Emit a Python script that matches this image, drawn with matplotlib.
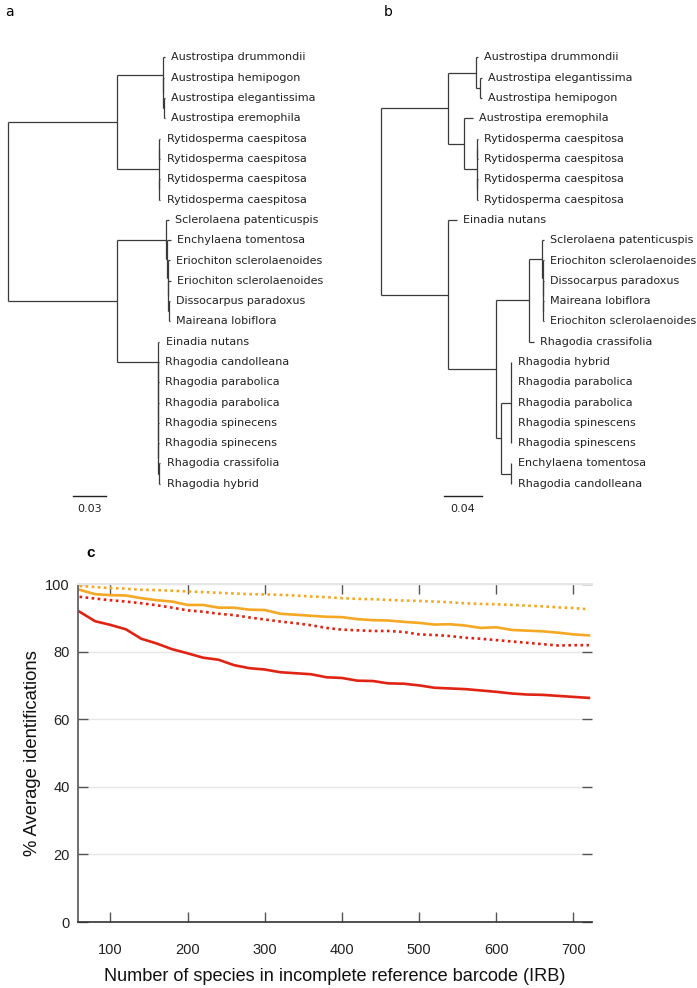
import matplotlib
matplotlib.use('Agg')
import matplotlib.pyplot as plt

plt.rcParams['font.family'] = ['Liberation Sans Narrow', 'Liberation Sans', 'DejaVu Sans']

# ---- trees (newick, branch lengths in substitutions/site) ----
tree_a = ("(((Austrostipa_drummondii:0.002,(Austrostipa_hemipogon:0.001,(Austrostipa_elegantissima:0.001,"
          "Austrostipa_eremophila:0.001):0.0005):0.0005):0.0414,"
          "((Rytidosperma_caespitosa:0.001,Rytidosperma_caespitosa:0.001):0.0005,"
          "(Rytidosperma_caespitosa:0.001,Rytidosperma_caespitosa:0.001):0.0005):0.0378):0.098,"
          "((Sclerolaena_patenticuspis:0.0025,(Enchylaena_tomentosa:0.0035,(Eriochiton_sclerolaenoides:0.002,"
          "(Eriochiton_sclerolaenoides:0.002,(Dissocarpus_paradoxus:0.001,Maireana_lobiflora:0.001):0.0005)"
          ":0.0005):0.001):0.0008):0.0441,"
          "(Einadia_nutans:0.0015,(Rhagodia_candolleana:0.001,(Rhagodia_parabolica:0.001,(Rhagodia_parabolica:0.001,"
          "(Rhagodia_spinecens:0.001,(Rhagodia_spinecens:0.001,(Rhagodia_crassifolia:0.0015,Rhagodia_hybrid:0.0015)"
          ":0.0005):0):0):0):0):0.0003):0.0369):0.098);")

tree_b = ("(((Austrostipa_drummondii:0.0025,(Austrostipa_elegantissima:0.002,Austrostipa_hemipogon:0.002):0.0046):0.030,"
          "(Austrostipa_eremophila:0.0093,((Rytidosperma_caespitosa:0.001,Rytidosperma_caespitosa:0.001):0.0003,"
          "(Rytidosperma_caespitosa:0.001,Rytidosperma_caespitosa:0.001):0.0003):0.0139):0.0175):0.0714,"
          "(Einadia_nutans:0.0103,(((Sclerolaena_patenticuspis:0.0015,(Eriochiton_sclerolaenoides:0.0015,"
          "(Dissocarpus_paradoxus:0.001,(Maireana_lobiflora:0.001,Eriochiton_sclerolaenoides:0.001):0.0003):0.0003)"
          ":0.0005):0.0143,Rhagodia_crassifolia:0.0054):0.0357,"
          "((Rhagodia_hybrid:0.001,Rhagodia_parabolica:0.001,Rhagodia_parabolica:0.001,Rhagodia_spinescens:0.001,"
          "Rhagodia_spinescens:0.001):0.0104,(Enchylaena_tomentosa:0.001,Rhagodia_candolleana:0.001):0.0104)"
          ":0.0057):0.0514):0.0714);")

scale_a = 0.03
scale_b = 0.04

# ---- panel c data ----
n_species = [60, 80, 100, 120, 140, 160, 180, 200, 220, 240, 260, 280, 300, 320, 340, 360, 380,
             400, 420, 440, 460, 480, 500, 520, 540, 560, 580, 600, 620, 640, 660, 680, 700, 720]
orange_dotted = [99.4, 99.1, 98.8, 98.6, 98.3, 98.2, 98.0, 97.8, 97.6, 97.4, 97.2, 97.0, 96.9, 96.8, 96.6,
                 96.3, 96.1, 95.8, 95.6, 95.5, 95.3, 95.1, 95.0, 94.8, 94.6, 94.3, 94.1, 94.0, 93.8, 93.6,
                 93.4, 93.1, 92.9, 92.5]
orange_solid = [98.3, 97.0, 96.7, 96.6, 95.8, 95.2, 94.8, 93.8, 93.8, 93.0, 93.0, 92.4, 92.3, 91.2, 90.9,
                90.6, 90.3, 90.2, 89.6, 89.3, 89.2, 88.8, 88.5, 88.0, 88.1, 87.7, 87.0, 87.2, 86.4, 86.2,
                86.0, 85.6, 85.1, 84.8]
red_dotted = [96.2, 95.7, 95.2, 94.8, 94.3, 93.7, 93.0, 92.2, 91.8, 91.2, 90.8, 90.1, 89.5, 88.9, 88.4,
              87.8, 87.0, 86.5, 86.3, 86.1, 86.1, 85.8, 85.1, 84.9, 84.6, 84.1, 83.8, 83.4, 83.0, 82.6,
              82.2, 81.8, 81.9, 81.9]
red_solid = [91.8, 89.0, 87.9, 86.6, 83.8, 82.4, 80.7, 79.5, 78.2, 77.6, 76.0, 75.1, 74.7, 73.9, 73.6,
             73.3, 72.4, 72.2, 71.4, 71.3, 70.6, 70.5, 70.0, 69.3, 69.1, 68.9, 68.5, 68.1, 67.6, 67.3,
             67.2, 66.9, 66.6, 66.3]

ORANGE = '#F5A823'
RED = '#E12314'
W, H = 697, 988


def fbox(x0, y0, x1, y1):
    return [x0 / W, 1 - y1 / H, (x1 - x0) / W, (y1 - y0) / H]


def parse_newick(s):
    pos = 0

    def node():
        nonlocal pos
        n = {'children': [], 'name': '', 'len': 0.0}
        if s[pos] == '(':
            pos += 1
            while True:
                n['children'].append(node())
                if s[pos] == ',':
                    pos += 1
                    continue
                pos += 1
                break
        start = pos
        while s[pos] not in ':,);':
            pos += 1
        n['name'] = s[start:pos].replace('_', ' ')
        if s[pos] == ':':
            pos += 1
            start = pos
            while s[pos] not in ',);':
                pos += 1
            n['len'] = float(s[start:pos])
        return n
    return node()


def layout(n, x, rows):
    n['x'] = x + n['len']
    if not n['children']:
        n['y'] = rows[0]
        rows[0] += 1
    else:
        for c in n['children']:
            layout(c, n['x'], rows)
        n['y'] = (n['children'][0]['y'] + n['children'][-1]['y']) / 2


def draw(ax, n):
    kw = dict(color='#3a3a3a', lw=0.9, solid_capstyle='butt')
    if n['children']:
        ys = [c['y'] for c in n['children']]
        ax.plot([n['x'], n['x']], [min(ys), max(ys)], **kw)
        for c in n['children']:
            ax.plot([n['x'], c['x']], [c['y'], c['y']], **kw)
            draw(ax, c)
    else:
        ax.annotate(n['name'], (n['x'], n['y']), xytext=(4.5, 0), textcoords='offset points',
                    va='center', ha='left', fontsize=8, color='#222222', family='DejaVu Sans')


fig = plt.figure(figsize=(6.97, 9.88), dpi=100)

row0, row_step = 57.5, 20.3
# (tree, scale, axes px span, root px, px per unit, scale bar start px)
panels = [(tree_a, scale_a, (0, 340), 8, 33.3 / scale_a, 72.7),
          (tree_b, scale_b, (340, 697), 381, 37.3 / scale_b, 444.3)]
for tree, scale, (px0, px1), root_px, ppu, bar_px in panels:
    ax = fig.add_axes(fbox(px0, 40, px1, 520))
    root = parse_newick(tree)
    layout(root, 0.0, [0])
    draw(ax, root)
    ax.set_xlim((px0 - root_px) / ppu, (px1 - root_px) / ppu)
    ax.set_ylim((520 - row0) / row_step, (40 - row0) / row_step)
    ax.axis('off')
    # scale bar
    bar_x = (bar_px - root_px) / ppu
    bar_y = (496 - row0) / row_step
    ax.plot([bar_x, bar_x + scale], [bar_y, bar_y], color='#222222', lw=1.0)
    ax.text(bar_x + scale / 2, (509 - row0) / row_step, f'{scale:.2f}', ha='center', va='center',
            fontsize=8, color='#222222', family='DejaVu Sans')

fig.text(5 / W, 1 - 12 / H, 'a', fontsize=10, va='center', family='DejaVu Sans')
fig.text(384 / W, 1 - 12 / H, 'b', fontsize=10, va='center', family='DejaVu Sans')

# ---- panel c ----
ax = fig.add_axes(fbox(78, 584, 592, 922))
dots = (0, (1, 1.3))
ax.plot(n_species, orange_dotted, color=ORANGE, lw=1.9, ls=dots, dash_capstyle='butt')
ax.plot(n_species, orange_solid, color=ORANGE, lw=1.9)
ax.plot(n_species, red_dotted, color=RED, lw=1.9, ls=dots, dash_capstyle='butt')
ax.plot(n_species, red_solid, color=RED, lw=1.9)
ax.set_xlim(58, 724)
ax.set_ylim(0, 100)
ax.set_xticks(range(100, 701, 100))
ax.set_yticks(range(0, 101, 20))
ax.yaxis.grid(True, color='#e6e6e6', lw=1.0)
ax.set_axisbelow(True)
ax.spines['right'].set_visible(False)
ax.spines['top'].set_color('#e6e6e6')
ax.spines['top'].set_linewidth(1.5)
ax.spines['left'].set_color('#555555')
ax.spines['left'].set_linewidth(1.2)
ax.spines['bottom'].set_color('#333333')
ax.spines['bottom'].set_linewidth(1.2)
ax.tick_params(direction='in', length=7, width=1, color='#555555', top=True, right=True,
               labelsize=10.5, labelcolor='#222222')
ax.tick_params(axis='x', pad=15)
ax.tick_params(axis='y', pad=6)
ax.set_xlabel('Number of species in incomplete reference barcode (IRB)', fontsize=13.1, labelpad=8,
              color='#111111')
ax.set_ylabel('% Average identifications', fontsize=13.3, labelpad=3, color='#111111')
fig.text(86 / W, 1 - 553 / H, 'c', fontsize=11, fontweight='bold', va='center', family='Liberation Sans')

fig.savefig('out.png', dpi=100)
